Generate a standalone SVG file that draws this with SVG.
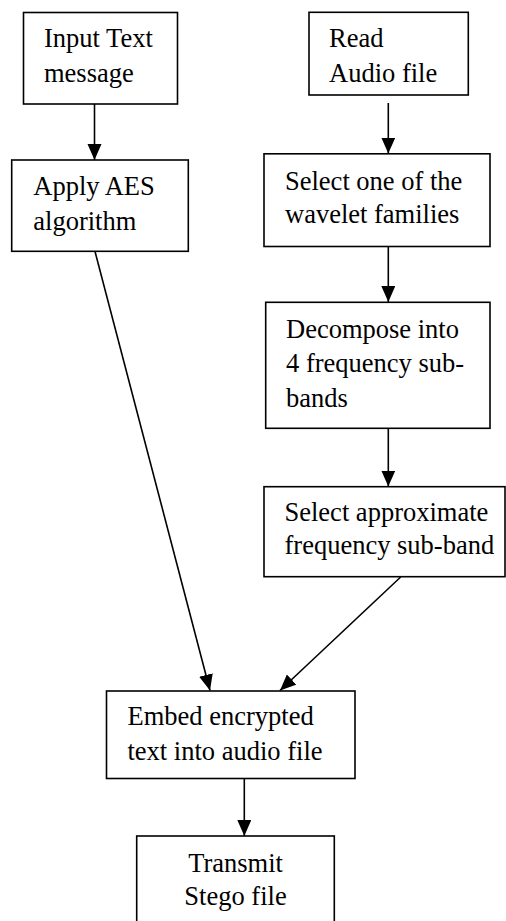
<svg xmlns="http://www.w3.org/2000/svg" width="506" height="921" viewBox="0 0 506 921">
  <style>
    .box { fill: #fff; stroke: #000; stroke-width: 1.6; }
    .lbl { font-family: "Liberation Serif", "Times New Roman", serif; font-size: 26.5px; fill: #000; }
    .mid { text-anchor: middle; }
    .edge { fill: none; stroke: #000; stroke-width: 1.6; marker-end: url(#head); }
  </style>
  <defs>
    <marker id="head" markerUnits="userSpaceOnUse" markerWidth="17" markerHeight="15" refX="16" refY="7" orient="auto">
      <path d="M0,0 L16,7 L0,14 z" fill="#000"/>
    </marker>
  </defs>
  <rect width="506" height="921" fill="#fff"/>

  <g id="connectors">
    <line class="edge" x1="94.5" y1="104" x2="94.5" y2="160"/>
    <line class="edge" x1="388.3" y1="103" x2="388.3" y2="153.5"/>
    <line class="edge" x1="388.3" y1="246.5" x2="388.3" y2="302"/>
    <line class="edge" x1="388.3" y1="428.5" x2="388.3" y2="486.5"/>
    <line class="edge" x1="95" y1="251.5" x2="210" y2="690.5"/>
    <line class="edge" x1="400.7" y1="577" x2="280" y2="690.5"/>
    <line class="edge" x1="244.3" y1="778.5" x2="244.3" y2="836"/>
  </g>

  <g id="input-text">
    <rect class="box" x="23.5" y="12.5" width="154" height="91.5"/>
    <text class="lbl" x="44" y="47">Input Text</text>
    <text class="lbl" x="44" y="82">message</text>
  </g>

  <g id="apply-aes">
    <rect class="box" x="11.7" y="160" width="176.6" height="91.3"/>
    <text class="lbl" x="33.3" y="195">Apply AES</text>
    <text class="lbl" x="33.3" y="230">algorithm</text>
  </g>

  <g id="read-audio">
    <rect class="box" x="309" y="12.3" width="159.3" height="82.7"/>
    <text class="lbl" x="329" y="47">Read</text>
    <text class="lbl" x="329" y="82">Audio file</text>
  </g>

  <g id="select-wavelet">
    <rect class="box" x="264" y="153.8" width="226" height="92.7"/>
    <text class="lbl" x="285" y="189.5">Select one of the</text>
    <text class="lbl" x="285" y="222.5">wavelet families</text>
  </g>

  <g id="decompose">
    <rect class="box" x="265.7" y="302.3" width="224.3" height="126"/>
    <text class="lbl" x="286" y="338.3">Decompose into</text>
    <text class="lbl" x="286" y="372">4 frequency sub-</text>
    <text class="lbl" x="286" y="406.7">bands</text>
  </g>

  <g id="select-subband">
    <rect class="box" x="264" y="486.7" width="241" height="90"/>
    <text class="lbl" x="284.5" y="520.7">Select approximate</text>
    <text class="lbl" x="284.5" y="554">frequency sub-band</text>
  </g>

  <g id="embed">
    <rect class="box" x="106.5" y="691" width="248.5" height="87.5"/>
    <text class="lbl" x="127.5" y="725">Embed encrypted</text>
    <text class="lbl" x="127.5" y="760">text into audio file</text>
  </g>

  <g id="transmit">
    <rect class="box" x="136.7" y="836" width="197.6" height="100"/>
    <text class="lbl mid" x="235.5" y="871.5">Transmit</text>
    <text class="lbl mid" x="235.5" y="905">Stego file</text>
  </g>
</svg>
